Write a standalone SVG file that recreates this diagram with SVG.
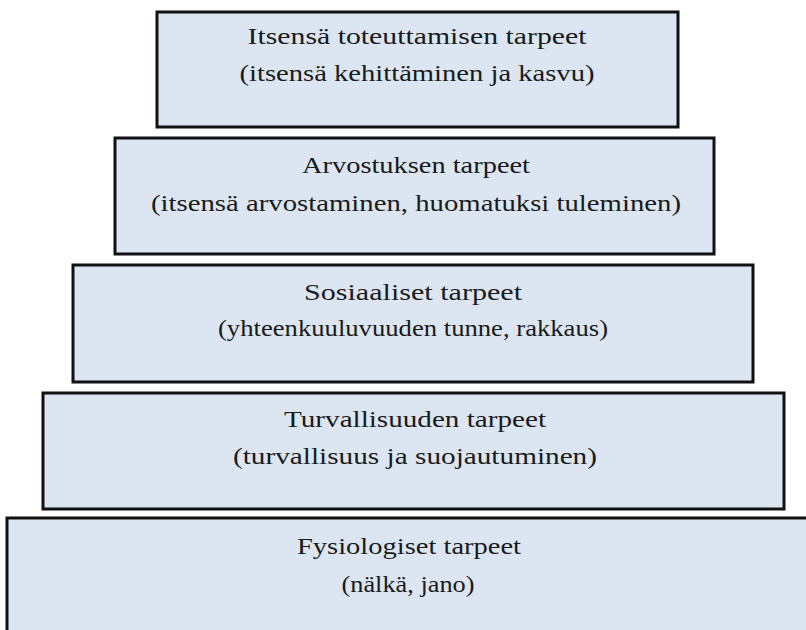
<svg xmlns="http://www.w3.org/2000/svg" width="806" height="630" viewBox="0 0 806 630">
<style>
.box{fill:#dce6f2;stroke:#111;stroke-width:3}
.t{font-family:"Liberation Serif","Times New Roman",serif;font-size:24px;fill:#1a1a1a;text-anchor:middle}
</style>
<rect x="0" y="0" width="806" height="630" fill="#ffffff"/>
<g id="level5">
<rect class="box" x="157" y="12" width="521" height="115"/>
<text class="t" x="417" y="44" textLength="339" lengthAdjust="spacingAndGlyphs">Itsensä toteuttamisen tarpeet</text>
<text class="t" x="417" y="81" textLength="355" lengthAdjust="spacingAndGlyphs">(itsensä kehittäminen ja kasvu)</text>
</g>
<g id="level4">
<rect class="box" x="115" y="138" width="599" height="116"/>
<text class="t" x="416" y="173" textLength="228" lengthAdjust="spacingAndGlyphs">Arvostuksen tarpeet</text>
<text class="t" x="416" y="211" textLength="530" lengthAdjust="spacingAndGlyphs">(itsensä arvostaminen, huomatuksi tuleminen)</text>
</g>
<g id="level3">
<rect class="box" x="73" y="265" width="680" height="117"/>
<text class="t" x="413" y="300" textLength="218" lengthAdjust="spacingAndGlyphs">Sosiaaliset tarpeet</text>
<text class="t" x="413" y="336" textLength="390" lengthAdjust="spacingAndGlyphs">(yhteenkuuluvuuden tunne, rakkaus)</text>
</g>
<g id="level2">
<rect class="box" x="43" y="393" width="741" height="116"/>
<text class="t" x="415" y="427" textLength="262" lengthAdjust="spacingAndGlyphs">Turvallisuuden tarpeet</text>
<text class="t" x="415" y="464" textLength="364" lengthAdjust="spacingAndGlyphs">(turvallisuus ja suojautuminen)</text>
</g>
<g id="level1">
<rect class="box" x="7" y="518" width="810" height="130"/>
<text class="t" x="409" y="554" textLength="224" lengthAdjust="spacingAndGlyphs">Fysiologiset tarpeet</text>
<text class="t" x="408" y="592" textLength="133" lengthAdjust="spacingAndGlyphs">(nälkä, jano)</text>
</g>
<g id="connectors"/>
</svg>
